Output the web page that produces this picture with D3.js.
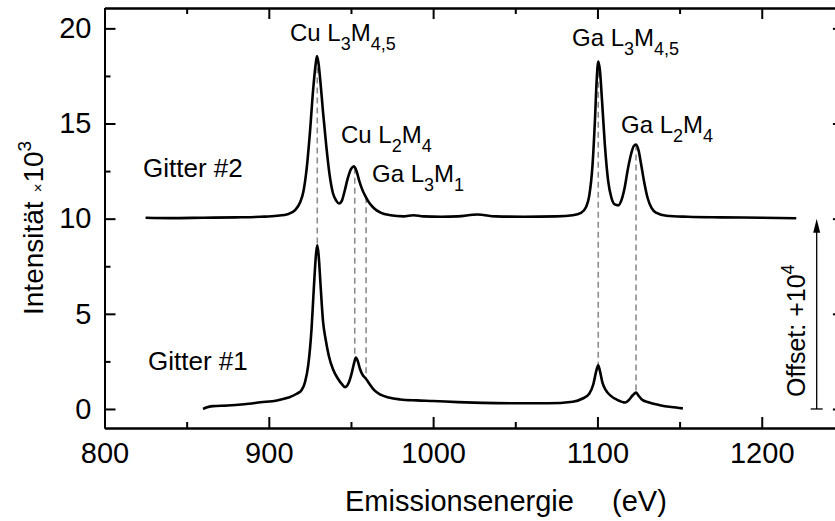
<!DOCTYPE html>
<html>
<head>
<meta charset="utf-8">
<script src="https://cdn.jsdelivr.net/npm/d3@7"></script>
<style>
  html, body { margin: 0; padding: 0; background: #fff; }
  svg { display: block; font-family: "Liberation Sans", Arial, Helvetica, sans-serif; }
</style>
</head>
<body>
<svg id="chart" width="835" height="521"></svg>
<script>
// Emission spectra of the two gratings (energy in eV, intensity in 10^3 counts)
const energy2 = [825, 840, 860, 880, 895, 905, 912, 916, 919, 921, 923, 925, 927, 928.5, 929.3, 930.2,
  931.5, 933, 935, 937, 939, 941, 942.8, 944.5, 946, 948, 950, 951.8, 953.2, 955, 957, 959, 961, 964,
  968, 974, 982, 988, 994, 1005, 1015, 1027, 1038, 1055, 1075, 1085, 1090, 1093, 1095, 1097, 1098.5,
  1099.5, 1100.5, 1101.5, 1102.8, 1104.5, 1106.5, 1108.5, 1110.5, 1112.7, 1114.5, 1116.5, 1118.5,
  1120.5, 1122, 1123.5, 1125, 1126.5, 1128.5, 1130.5, 1133, 1136, 1142, 1155, 1175, 1200, 1221];
const intensity2 = [0.05, 0.03, 0.05, 0.07, 0.1, 0.15, 0.25, 0.45, 0.85, 1.4, 2.6, 4.5, 6.8, 8.1, 8.55, 8.2,
  7.1, 5.6, 3.8, 2.3, 1.35, 0.95, 0.8, 0.95, 1.4, 2.1, 2.6, 2.75, 2.55, 2.0, 1.5, 1.15, 0.85, 0.55,
  0.32, 0.18, 0.12, 0.18, 0.12, 0.1, 0.12, 0.22, 0.12, 0.1, 0.12, 0.18, 0.3, 0.6, 1.2, 2.8, 5.2,
  7.2, 8.25, 7.8, 6.2, 3.9, 2.0, 1.1, 0.75, 0.7, 0.95, 1.6, 2.6,
  3.4, 3.8, 3.9, 3.6, 2.9, 1.9, 1.1, 0.55, 0.3, 0.15, 0.1, 0.07, 0.05, 0.02];

const energy1 = [860, 862, 866, 875, 885, 895, 905, 912, 917, 920, 922, 924, 926, 927.5, 928.8, 929.5,
  930.3, 931.5, 933, 934.5, 936.5, 939, 942, 944.5, 946.5, 948.5, 950.5, 952, 953, 954, 955.5, 957,
  959, 961, 964, 968, 973, 980, 990, 1000, 1015, 1030, 1050, 1070, 1085, 1091, 1095, 1097.5, 1099.3,
  1100.5, 1101.5, 1103, 1105, 1108, 1112, 1117, 1119.5, 1121.5, 1123.5, 1125, 1127, 1131, 1138, 1145, 1152];
const intensity1 = [0.0, 0.08, 0.15, 0.18, 0.25, 0.35, 0.45, 0.6, 0.8, 1.0, 1.4, 2.3, 4.2, 6.5, 8.2, 8.6,
  8.1, 6.5, 4.6, 3.7, 2.8, 2.1, 1.6, 1.3, 1.15, 1.35, 1.9, 2.45, 2.7, 2.55, 2.1, 1.8,
  1.6, 1.35, 1.0, 0.75, 0.6, 0.5, 0.45, 0.42, 0.36, 0.32, 0.3, 0.3, 0.38, 0.55, 0.8, 1.3, 2.0,
  2.3, 2.0, 1.4, 1.0, 0.7, 0.48, 0.34, 0.5, 0.72, 0.86, 0.7, 0.5, 0.35, 0.2, 0.1, 0.03];

// Vertical offset applied to grating #2 (10^4 counts = 10 x 10^3)
const offset2 = 10;

// Peak assignments (energy in eV)
const peakEnergies = [929.5, 952.3, 959.2, 1100.5, 1123.5];

// Axis ticks
const xMajorTicks = [800, 900, 1000, 1100, 1200];
const xMinorTicks = [850, 950, 1050, 1150, 1250];
const yMajorTicks = [0, 5, 10, 15, 20];
const yMinorTicks = [2.5, 7.5, 12.5, 17.5];

const svg = d3.select("#chart");

const x = d3.scaleLinear().domain([800, 1250]).range([104.5, 843.9]);
const y = d3.scaleLinear().domain([-1, 21.07]).range([428, 8]);

const tickFont = 29;

// ----- axes (ticks pointing inward on all four sides)
function styleAxis(g) {
  g.selectAll(".domain").attr("stroke", "#000").attr("stroke-width", 2);
  g.selectAll(".tick line").attr("stroke", "#000").attr("stroke-width", 2);
}
function styleLabels(g) {
  g.selectAll("text").attr("font-size", tickFont).attr("fill", "#000")
    .style("font-family", "Liberation Sans, Arial, sans-serif");
}

const axisB = svg.append("g").attr("transform", `translate(0,${y.range()[0]})`)
  .call(d3.axisBottom(x).tickValues(xMajorTicks).tickFormat(d3.format("d"))
    .tickSizeInner(-11).tickSizeOuter(0).tickPadding(14));
styleLabels(axisB);
styleAxis(axisB);
const axisBMinor = svg.append("g").attr("transform", `translate(0,${y.range()[0]})`)
  .call(d3.axisBottom(x).tickValues(xMinorTicks).tickSizeInner(-6).tickSizeOuter(0).tickFormat(""));
styleAxis(axisBMinor);

const axisT = svg.append("g").attr("transform", `translate(0,${y.range()[1]})`)
  .call(d3.axisTop(x).tickValues(xMajorTicks).tickSizeInner(-11).tickSizeOuter(0).tickFormat(""));
styleAxis(axisT);
const axisTMinor = svg.append("g").attr("transform", `translate(0,${y.range()[1]})`)
  .call(d3.axisTop(x).tickValues(xMinorTicks).tickSizeInner(-6).tickSizeOuter(0).tickFormat(""));
styleAxis(axisTMinor);

const axisL = svg.append("g").attr("transform", `translate(${x.range()[0]},0)`)
  .call(d3.axisLeft(y).tickValues(yMajorTicks).tickFormat(d3.format("d"))
    .tickSizeInner(-11).tickSizeOuter(0).tickPadding(13));
styleLabels(axisL);
styleAxis(axisL);
const axisLMinor = svg.append("g").attr("transform", `translate(${x.range()[0]},0)`)
  .call(d3.axisLeft(y).tickValues(yMinorTicks).tickSizeInner(-6).tickSizeOuter(0).tickFormat(""));
styleAxis(axisLMinor);

const axisR = svg.append("g").attr("transform", `translate(${x.range()[1]},0)`)
  .call(d3.axisRight(y).tickValues(yMajorTicks).tickSizeInner(-11).tickSizeOuter(0).tickFormat(""));
styleAxis(axisR);
const axisRMinor = svg.append("g").attr("transform", `translate(${x.range()[1]},0)`)
  .call(d3.axisRight(y).tickValues(yMinorTicks).tickSizeInner(-6).tickSizeOuter(0).tickFormat(""));
styleAxis(axisRMinor);

// ----- axis titles
svg.append("text")
  .attr("x", 345).attr("y", 511)
  .attr("font-size", tickFont)
  .text("Emissionsenergie");
svg.append("text")
  .attr("x", 612).attr("y", 511)
  .attr("font-size", tickFont)
  .text("(eV)");

const yTitle = svg.append("text")
  .attr("transform", "translate(43,315) rotate(-90)")
  .attr("font-size", 28);
yTitle.append("tspan").text("Intensität");
yTitle.append("tspan").attr("dx", 9).attr("font-size", 15).text("×");
yTitle.append("tspan").attr("dx", 1).text("10");
yTitle.append("tspan").attr("font-size", 19).attr("dy", -12).text("3");

// ----- peak guide lines
function valueAt(es, vs, e) {
  const i = d3.bisectLeft(es, e);
  if (i <= 0) return vs[0];
  if (i >= es.length) return vs[vs.length - 1];
  const t = (e - es[i - 1]) / (es[i] - es[i - 1]);
  return vs[i - 1] + t * (vs[i] - vs[i - 1]);
}

svg.append("g").selectAll("line")
  .data(peakEnergies)
  .join("line")
  .attr("x1", d => x(d)).attr("x2", d => x(d))
  .attr("y1", d => y(valueAt(energy2, intensity2, d) + offset2))
  .attr("y2", d => y(valueAt(energy1, intensity1, d)))
  .attr("stroke", "#8c8c8c")
  .attr("stroke-width", 1.6)
  .attr("stroke-dasharray", "6,4");

// ----- spectra
const line = d3.line()
  .x(d => x(d[0]))
  .y(d => y(d[1]))
  .curve(d3.curveMonotoneX);

const spec1 = energy1.map((e, i) => [e, intensity1[i]]);
const spec2 = energy2.map((e, i) => [e, intensity2[i] + offset2]);

svg.append("path").datum(spec2).attr("d", line)
  .attr("fill", "none").attr("stroke", "#000").attr("stroke-width", 2.6)
  .attr("stroke-linejoin", "round");
svg.append("path").datum(spec1).attr("d", line)
  .attr("fill", "none").attr("stroke", "#000").attr("stroke-width", 2.6)
  .attr("stroke-linejoin", "round");

// ----- labels
const gratingLabels = [
  { text: "Gitter #2", x: 143, y: 177 },
  { text: "Gitter #1", x: 148, y: 370 }
];
svg.append("g").selectAll("text")
  .data(gratingLabels)
  .join("text")
  .attr("x", d => d.x).attr("y", d => d.y)
  .attr("font-size", 26)
  .text(d => d.text);

// Transition labels: element, then level parts with subscripts
const peakLabels = [
  { el: "Cu", parts: [["L", "3"], ["M", "4,5"]], x: 290, y: 41 },
  { el: "Cu", parts: [["L", "2"], ["M", "4"]], x: 341, y: 143 },
  { el: "Ga", parts: [["L", "3"], ["M", "1"]], x: 372, y: 182 },
  { el: "Ga", parts: [["L", "3"], ["M", "4,5"]], x: 572, y: 46 },
  { el: "Ga", parts: [["L", "2"], ["M", "4"]], x: 621, y: 133 }
];
peakLabels.forEach(p => {
  const t = svg.append("text").attr("x", p.x).attr("y", p.y).attr("font-size", 24);
  t.append("tspan").text(p.el + " ");
  p.parts.forEach(([main, sub], i) => {
    t.append("tspan").attr("dy", i === 0 ? 0 : -9).text(main);
    t.append("tspan").attr("font-size", 18).attr("dy", 9).text(sub);
  });
});

// ----- offset indicator
const arrowX = 816.7;
svg.append("line")
  .attr("x1", arrowX).attr("x2", arrowX)
  .attr("y1", y(0)).attr("y2", y(offset2) + 12)
  .attr("stroke", "#000").attr("stroke-width", 1.3);
svg.append("line")
  .attr("x1", arrowX - 6).attr("x2", arrowX + 6)
  .attr("y1", y(0)).attr("y2", y(0))
  .attr("stroke", "#000").attr("stroke-width", 1.3);
svg.append("path")
  .attr("d", `M${arrowX},${y(offset2)} L${arrowX - 3.5},${y(offset2) + 14} L${arrowX + 3.5},${y(offset2) + 14} Z`)
  .attr("fill", "#000");

const offText = svg.append("text")
  .attr("transform", "translate(805,397) rotate(-90)")
  .attr("font-size", 25);
offText.append("tspan").text("Offset: +10");
offText.append("tspan").attr("font-size", 18).attr("dy", -11).text("4");
</script>
</body>
</html>
